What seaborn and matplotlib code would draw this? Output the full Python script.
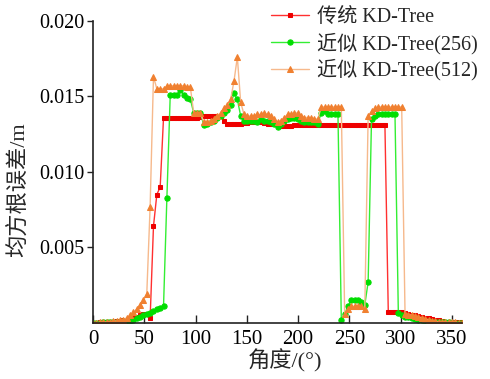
import numpy as np
import pandas as pd
import matplotlib
matplotlib.use("Agg")
import matplotlib.pyplot as plt
import seaborn as sns

# ---------------- data ----------------
angles = [0, 3.27, 6.55, 9.82, 13.09, 16.36, 19.64, 22.91, 26.18, 29.45,
          32.73, 36, 39.27, 42.55, 45.82, 49.09, 52.36, 55.64, 58.91, 62.18,
          65.45, 68.73, 72, 75.27, 78.55, 81.82, 85.09, 88.36, 91.64, 94.91,
          98.18, 101.45, 104.73, 108, 111.27, 114.55, 117.82, 121.09, 124.36, 127.64,
          130.91, 134.18, 137.45, 140.73, 144, 147.27, 150.55, 153.82, 157.09, 160.36,
          163.64, 166.91, 170.18, 173.45, 176.73, 180, 183.27, 186.55, 189.82, 193.09,
          196.36, 199.64, 202.91, 206.18, 209.45, 212.73, 216, 219.27, 222.55, 225.82,
          229.09, 232.36, 235.64, 238.91, 242.18, 245.45, 248.73, 252, 255.27, 258.55,
          261.82, 265.09, 268.36, 271.64, 274.91, 278.18, 281.45, 284.73, 288, 291.27,
          294.55, 297.82, 301.09, 304.36, 307.64, 310.91, 314.18, 317.45, 320.73, 324,
          327.27, 330.55, 333.82, 337.09, 340.36, 343.64, 346.91, 350.18, 353.45, 356.73,
          360]

kd_traditional = [
    0.00001, 0.00002, 0.00003, 0.00004, 0.00005, 0.00006, 0.00008, 0.0001, 0.00013, 0.00016,
    0.0002, 0.00027, 0.00035, 0.00042, 0.0005, 0.00058, 0.00062, 0.0003, 0.0064, 0.0085,
    0.0090, 0.0136, 0.0136, 0.01358, 0.01357, 0.01356, 0.01355, 0.01355, 0.01355, 0.01355,
    0.01356, 0.0136, 0.01365, 0.0137, 0.0137, 0.0137, 0.0137, 0.01372, 0.01372, 0.0134,
    0.0132, 0.01318, 0.01318, 0.0132, 0.0132, 0.01322, 0.01325, 0.01328, 0.0133, 0.0133,
    0.01328, 0.01325, 0.0132, 0.01318, 0.01315, 0.0131, 0.01305, 0.01303, 0.01303, 0.01305,
    0.0131, 0.0131, 0.0131, 0.0131, 0.0131, 0.0131, 0.0131, 0.0131, 0.0131, 0.0131,
    0.0131, 0.0131, 0.0131, 0.0131, 0.0131, 0.0131, 0.0131, 0.0131, 0.0131, 0.0131,
    0.0131, 0.0131, 0.0131, 0.0131, 0.0131, 0.0131, 0.0131, 0.0131, 0.00075, 0.00075,
    0.00074, 0.00072, 0.0007, 0.00065, 0.0006, 0.00055, 0.0005, 0.00045, 0.0004, 0.00035,
    0.0003, 0.00025, 0.0002, 0.00016, 0.00012, 0.00009, 0.00007, 0.00005, 0.00004, 0.00003,
    0.00003]

kd_approx_256 = [
    0.00001, 0.00001, 0.00002, 0.00003, 0.00004, 0.00005, 0.00006, 0.00007, 0.00008, 0.0001,
    0.00012, 0.00015, 0.00022, 0.0003, 0.00042, 0.0005, 0.0006, 0.00068, 0.0008, 0.0009,
    0.001, 0.00115, 0.0083, 0.0151, 0.0151, 0.0151, 0.0154, 0.0151, 0.0149, 0.0148,
    0.0139, 0.0139, 0.0139, 0.0131, 0.0132, 0.0133, 0.0134, 0.0136, 0.0137, 0.0139,
    0.0141, 0.0144, 0.0152, 0.0148, 0.0137, 0.0134, 0.0134, 0.0134, 0.0134, 0.0133,
    0.0135, 0.0134, 0.0134, 0.0133, 0.0132, 0.0130, 0.0132, 0.0134, 0.0135, 0.0136,
    0.0136, 0.0135, 0.0134, 0.0133, 0.0133, 0.0133, 0.0133, 0.0132, 0.0139, 0.0140,
    0.0138, 0.0138, 0.0138, 0.0138, 0.0002, 0.0006, 0.0011, 0.0015, 0.0015, 0.0015,
    0.0014, 0.0012, 0.0027, 0.0135, 0.0137, 0.0138, 0.0138, 0.0138, 0.0138, 0.0138,
    0.0138, 0.00064, 0.0005, 0.00042, 0.00036, 0.0003, 0.00025, 0.0002, 0.00016, 0.00013,
    0.0001, 0.00008, 0.00006, 0.00005, 0.00004, 0.00003, 0.00003, 0.00002, 0.00002, 0.00002,
    0.00002]

kd_approx_512 = [
    0.00001, 0.00002, 0.00003, 0.00004, 0.00006, 0.00008, 0.0001, 0.00013, 0.00017, 0.00022,
    0.00032, 0.0005, 0.0007, 0.0009, 0.0012, 0.0015, 0.0019, 0.0077, 0.0163, 0.0155,
    0.0155, 0.0155, 0.0157, 0.0157, 0.0157, 0.0157, 0.0157, 0.0157, 0.0156, 0.0156,
    0.0139, 0.0139, 0.0139, 0.0133, 0.0133, 0.0134, 0.0135, 0.0137, 0.0139, 0.0142,
    0.0144, 0.0148, 0.0160, 0.0176, 0.0146, 0.0138, 0.0137, 0.0137, 0.0137, 0.0138,
    0.0138, 0.0139, 0.0138, 0.0137, 0.0135, 0.0133, 0.0134, 0.0136, 0.0138, 0.0138,
    0.0139, 0.0139, 0.0137, 0.0136, 0.0136, 0.0136, 0.0135, 0.0135, 0.0143, 0.0143,
    0.0143, 0.0143, 0.0143, 0.0143, 0.0143, 0.0006, 0.0009, 0.0011, 0.0011, 0.0011,
    0.0011, 0.0009, 0.0137, 0.0140, 0.0142, 0.0143, 0.0143, 0.0143, 0.0143, 0.0143,
    0.0143, 0.0143, 0.0143, 0.0006, 0.00055, 0.0005, 0.00045, 0.0004, 0.00033, 0.00027,
    0.0002, 0.00015, 0.0001, 0.00008, 0.00006, 0.00005, 0.00004, 0.00003, 0.00003, 0.00002,
    0.00002]

series_labels = ["传统 KD-Tree", "近似 KD-Tree(256)", "近似 KD-Tree(512)"]
x_ticks = [0, 50, 100, 150, 200, 250, 300, 350]
y_ticks = [0.005, 0.010, 0.015, 0.020]
y_tick_labels = ["0.005", "0.010", "0.015", "0.020"]
x_label = "角度/(°)"
y_label = "均方根误差/m"

# ---------------- style ----------------
sns.set_theme(style="ticks")
plt.rcParams["font.family"] = ["Liberation Serif", "Noto Sans CJK SC", "DejaVu Sans"]
plt.rcParams["axes.unicode_minus"] = False

fig = plt.figure(figsize=(4.9, 3.79), dpi=100)
ax = fig.add_axes([0.19, 0.148, 0.753, 0.797])

styles = [
    dict(color="#ff3030", marker="s", markersize=3.2, markerfacecolor="#ee0000",
         markeredgecolor="#ee0000", linewidth=1.0),
    dict(color="#33ee33", marker="o", markersize=3.8, markerfacecolor="#00dd00",
         markeredgecolor="#00dd00", linewidth=1.0),
    dict(color="#f6b98c", marker="^", markersize=3.8, markerfacecolor="#f08030",
         markeredgecolor="#f08030", linewidth=1.0),
]

for vals, lab, st in zip([kd_traditional, kd_approx_256, kd_approx_512], series_labels, styles):
    df = pd.DataFrame({"angle": angles, "rmse": vals})
    sns.lineplot(data=df, x="angle", y="rmse", ax=ax, label=lab, estimator=None,
                 sort=False, legend=False, **st)

ax.set_xlim(0, 360)
ax.set_ylim(0, 0.020)
ax.set_xticks(x_ticks)
ax.set_xticklabels([str(t) for t in x_ticks])
ax.set_yticks(y_ticks)
ax.set_yticklabels(y_tick_labels)

for s in ["top", "right"]:
    ax.spines[s].set_visible(False)
for s in ["left", "bottom"]:
    ax.spines[s].set_color("#222222")
    ax.spines[s].set_linewidth(1.2)

ax.tick_params(axis="x", direction="in", length=6, width=1.0, labelsize=15, pad=5, colors="#222222")
ax.tick_params(axis="y", direction="out", length=4, width=1.0, labelsize=14.5, pad=2, colors="#222222")
for t in ax.get_xticklabels() + ax.get_yticklabels():
    t.set_color("black")

ax.set_xlabel(x_label, fontsize=16)
ax.set_ylabel(y_label, fontsize=16)
ax.xaxis.set_label_coords(0.52, -0.085)
ax.yaxis.set_label_coords(-0.17, 0.44)

handles, labels = ax.get_legend_handles_labels()
fig.legend(handles, labels, loc="upper left", bbox_to_anchor=(0.553, 0.978),
           frameon=False, fontsize=14.5, borderpad=0.0, borderaxespad=0.0,
           handlelength=1.9, handletextpad=0.4, labelspacing=0.25)

fig.savefig("out.png", dpi=100)
